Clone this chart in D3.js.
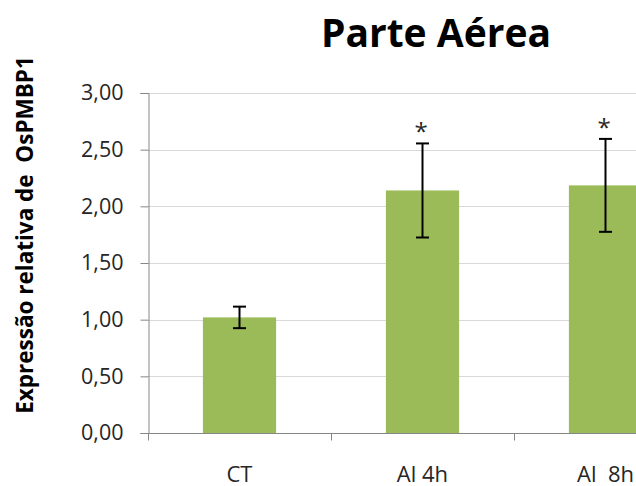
<!DOCTYPE html>
<html>
<head>
<meta charset="utf-8">
<script src="https://cdn.jsdelivr.net/npm/d3@7"></script>
<style>
  body { margin: 0; background: #fff; }
  svg { display: block; font-family: "Open Sans", sans-serif; }
</style>
</head>
<body>
<svg id="chart" width="636" height="486"></svg>
<script>
var categories = ["CT", "Al 4h", "Al  8h"];
var means = [1.02, 2.14, 2.185];
var errors = [0.095, 0.415, 0.41];
var significant = [false, true, true];
var yTicks = [0, 0.5, 1, 1.5, 2, 2.5, 3];

var svg = d3.select("#chart"),
  margin = { top: 93, left: 148, bottom: 433 },
  step = 183;

var x = d3.scaleBand()
  .domain(categories)
  .range([margin.left, margin.left + step * categories.length])
  .paddingInner(0.6)
  .paddingOuter(0.3);

var y = d3.scaleLinear()
  .domain([0, 3])
  .range([margin.bottom, margin.top]);

var fmt = function (d) { return d3.format(".2f")(d).replace(".", ","); };

// gridlines
svg.append("g")
  .selectAll("line").data(yTicks.slice(1))
  .enter().append("line")
  .attr("x1", margin.left).attr("x2", 636)
  .attr("y1", function (d) { return Math.round(y(d)) + 0.5; })
  .attr("y2", function (d) { return Math.round(y(d)) + 0.5; })
  .attr("stroke", "#d9d9d9")
  .attr("stroke-width", 1);

// bars
svg.append("g")
  .selectAll("rect").data(categories)
  .enter().append("rect")
  .attr("x", function (d) { return x(d); })
  .attr("width", x.bandwidth())
  .attr("y", function (d, i) { return y(means[i]); })
  .attr("height", function (d, i) { return y(0) - y(means[i]); })
  .attr("fill", "#9bbb59");

// y axis
var yAxis = svg.append("g")
  .attr("transform", "translate(" + (margin.left + 0.5) + ",0)")
  .call(d3.axisLeft(y).tickValues(yTicks).tickFormat(fmt).tickSize(8).tickPadding(17));
yAxis.select(".domain").attr("stroke", "#868686");
yAxis.selectAll(".tick line").attr("stroke", "#868686");
yAxis.selectAll(".tick text")
  .attr("font-size", 21.5)
  .attr("font-family", "Open Sans")
  .attr("fill", "#262626");

// x axis
var xAxis = svg.append("g")
  .attr("transform", "translate(0," + (margin.bottom + 0.5) + ")");
xAxis.append("line")
  .attr("x1", margin.left).attr("x2", 636)
  .attr("stroke", "#868686");
xAxis.selectAll("line.tk")
  .data(d3.range(categories.length + 1))
  .enter().append("line")
  .attr("class", "tk")
  .attr("x1", function (i) { return Math.round(margin.left + i * x.step()) + 0.5; })
  .attr("x2", function (i) { return Math.round(margin.left + i * x.step()) + 0.5; })
  .attr("y1", 0).attr("y2", 7)
  .attr("stroke", "#868686");
xAxis.selectAll("text")
  .data(categories)
  .enter().append("text")
  .attr("x", function (d) { return x(d) + x.bandwidth() / 2; })
  .attr("y", 48)
  .attr("text-anchor", "middle")
  .attr("font-size", 22)
  .attr("fill", "#262626")
  .style("white-space", "pre")
  .text(function (d) { return d; });

// error bars
var eb = svg.append("g").selectAll("g")
  .data(categories)
  .enter().append("g")
  .attr("transform", function (d) { return "translate(" + (x(d) + x.bandwidth() / 2) + ",0)"; });
eb.append("line")
  .attr("y1", function (d, i) { return y(means[i] + errors[i]); })
  .attr("y2", function (d, i) { return y(means[i] - errors[i]); })
  .attr("stroke", "#000").attr("stroke-width", 2);
eb.selectAll("line.cap")
  .data(function (d, i) { return [means[i] + errors[i], means[i] - errors[i]]; })
  .enter().append("line")
  .attr("class", "cap")
  .attr("x1", -6.5).attr("x2", 6.5)
  .attr("y1", function (v) { return y(v); })
  .attr("y2", function (v) { return y(v); })
  .attr("stroke", "#000").attr("stroke-width", 2);
eb.filter(function (d, i) { return significant[i]; })
  .append("text")
  .attr("text-anchor", "middle")
  .attr("x", -1.5)
  .attr("y", function (d) { var i = categories.indexOf(d); return y(means[i] + errors[i]) - 3; })
  .attr("font-size", 24)
  .attr("fill", "#262626")
  .text("*");

// title
svg.append("text")
  .attr("x", 436)
  .attr("y", 47)
  .attr("text-anchor", "middle")
  .attr("font-size", 39)
  .attr("font-weight", "bold")
  .attr("fill", "#000")
  .text("Parte Aérea");

// y axis title
svg.append("text")
  .attr("text-anchor", "middle")
  .attr("transform", "translate(33,235)rotate(-90)")
  .attr("font-size", 22.5)
  .attr("font-weight", "bold")
  .attr("fill", "#000")
  .style("white-space", "pre")
  .text("Expressão relativa de  OsPMBP1");
</script>
</body>
</html>
